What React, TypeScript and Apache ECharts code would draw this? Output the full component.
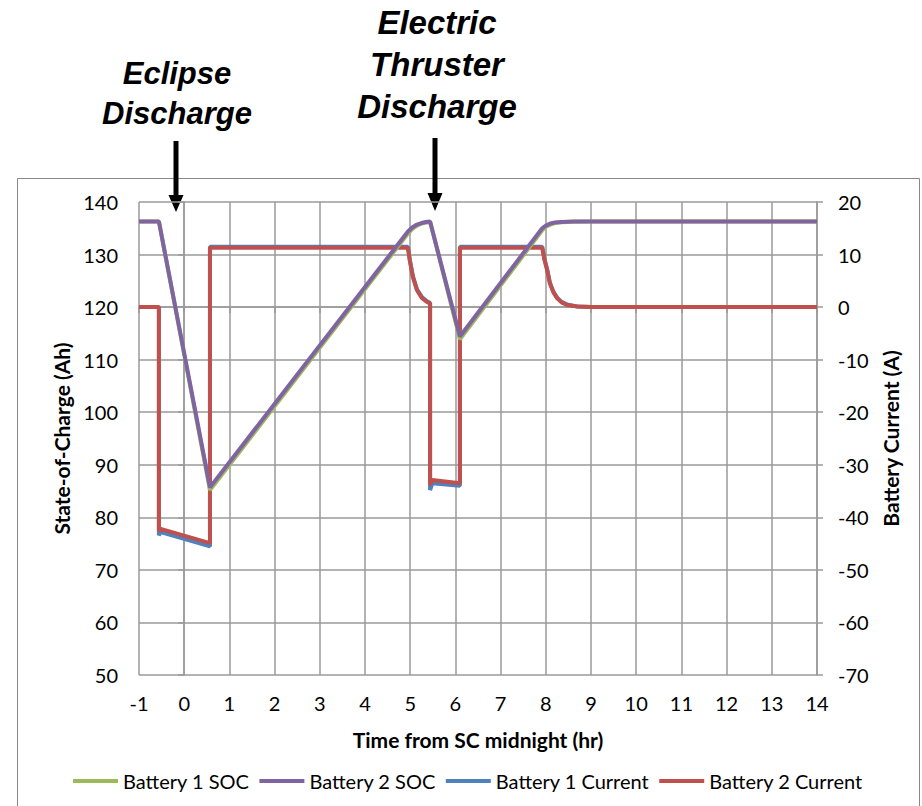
import React, { useEffect, useRef } from "react";
import * as echarts from "echarts";

// Time from SC midnight (hr) vs State-of-Charge (Ah)
const battery1SOC: [number, number][] = [
  [-1, 136.3], [-0.56, 136.3], [0.57, 85.2], [4.95, 134.0], [5.05, 134.9], [5.15, 135.5],
  [5.25, 135.9], [5.35, 136.1], [5.44, 136.25], [6.1, 113.9], [7.92, 134.6], [8.0, 135.3],
  [8.1, 135.7], [8.2, 136.0], [8.35, 136.15], [8.6, 136.25], [9.0, 136.3], [14, 136.3],
];
const battery2SOC: [number, number][] = [
  [-1, 136.3], [-0.56, 136.3], [0.57, 85.7], [4.95, 134.4], [5.05, 135.2], [5.15, 135.7],
  [5.25, 136.0], [5.35, 136.2], [5.44, 136.3], [6.1, 114.4], [7.92, 135.0], [8.0, 135.5],
  [8.1, 135.9], [8.2, 136.1], [8.35, 136.2], [8.6, 136.3], [14, 136.3],
];
// Time (hr) vs Battery Current (A)
const battery1Current: [number, number][] = [
  [-1, 0], [-0.56, 0], [-0.56, -43.4], [-0.52, -42.8], [0.57, -45.5], [0.57, 11.5],
  [4.95, 11.5], [4.99, 9.1], [5.06, 5.9], [5.15, 3.4], [5.26, 1.9], [5.37, 1.1], [5.44, 0.8],
  [5.44, -34.8], [5.49, -33.5], [6.1, -34.0], [6.1, 11.5], [7.92, 11.5], [7.97, 9.2],
  [8.03, 7.2], [8.09, 4.7], [8.17, 2.9], [8.25, 1.8], [8.35, 1.0], [8.47, 0.5], [8.7, 0.1],
  [9.0, 0], [14, 0],
];
const battery2Current: [number, number][] = [
  [-1, 0], [-0.56, 0], [-0.56, -42.6], [-0.52, -42.2], [0.57, -44.9], [0.57, 11.3],
  [4.95, 11.3], [4.99, 8.9], [5.06, 5.7], [5.15, 3.2], [5.26, 1.7], [5.37, 1.0], [5.44, 0.7],
  [5.44, -33.9], [5.49, -32.9], [6.1, -33.5], [6.1, 11.3], [7.92, 11.3], [7.97, 9.0],
  [8.03, 7.0], [8.09, 4.5], [8.17, 2.8], [8.25, 1.7], [8.35, 0.9], [8.47, 0.4], [8.7, 0.1],
  [9.0, 0], [14, 0],
];

const seriesNames = ["Battery 1 SOC", "Battery 2 SOC", "Battery 1 Current", "Battery 2 Current"];
const seriesColors = ["#9BBB59", "#8064A2", "#4F81BD", "#C0504D"];
const xAxisName = "Time from SC midnight (hr)";
const leftAxisName = "State-of-Charge (Ah)";
const rightAxisName = "Battery Current (A)";
const eclipseLabel = ["Eclipse", "Discharge"];
const thrusterLabel = ["Electric", "Thruster", "Discharge"];

const FONT = "Lato, 'Noto Sans', sans-serif";
const ANNOT_FONT = "'Liberation Sans', Arial, sans-serif";
const GRID_COLOR = "#9a9a9a";

export default function App() {
  const ref = useRef<HTMLDivElement>(null);
  useEffect(() => {
    if (!ref.current) return;
    const chart = echarts.init(ref.current, undefined, { renderer: "svg" });
    const axisLineStyle = { color: GRID_COLOR, width: 1.5 };
    const labelStyle = { fontFamily: FONT, fontSize: 20, color: "#000" };
    const nameStyle = { fontFamily: FONT, fontSize: 21, fontWeight: "bold" as const, color: "#000" };

    const annotTexts: any[] = [];
    eclipseLabel.forEach((t, i) => {
      annotTexts.push({
        type: "text", x: 177, y: 73 + i * 40,
        style: { text: t, fill: "#000", font: `italic bold 31px ${ANNOT_FONT}`, align: "center", verticalAlign: "middle" },
      });
    });
    thrusterLabel.forEach((t, i) => {
      annotTexts.push({
        type: "text", x: 437, y: 22 + i * 42,
        style: { text: t, fill: "#000", font: `italic bold 33px ${ANNOT_FONT}`, align: "center", verticalAlign: "middle" },
      });
    });

    const arrow = (cx: number, top: number, headTop: number, tip: number) => [
      { type: "rect", shape: { x: cx - 2.5, y: top, width: 5, height: headTop - top + 2 }, style: { fill: "#000" } },
      { type: "polygon", shape: { points: [[cx - 7.5, headTop], [cx + 7.5, headTop], [cx, tip]] }, style: { fill: "#000" } },
    ];

    const dataSets = [battery1SOC, battery2SOC, battery1Current, battery2Current];

    chart.setOption({
      animation: false,
      backgroundColor: "#fff",
      grid: { left: 139, right: 105, top: 202, bottom: 131 },
      legend: {
        data: seriesNames,
        left: 68,
        top: 766,
        icon: "rect",
        itemWidth: 45,
        itemHeight: 4,
        itemGap: 10,
        textStyle: { fontFamily: FONT, fontSize: 20, color: "#000" },
      },
      xAxis: {
        type: "value",
        min: -1,
        max: 14,
        interval: 1,
        name: xAxisName,
        nameLocation: "middle",
        nameGap: 54,
        nameTextStyle: nameStyle,
        axisLine: { show: true, lineStyle: axisLineStyle },
        axisTick: { show: true, length: 6, lineStyle: axisLineStyle },
        splitLine: { show: true, lineStyle: axisLineStyle },
        axisLabel: { ...labelStyle, margin: 18 },
      },
      yAxis: [
        {
          type: "value",
          position: "left",
          min: 50,
          max: 140,
          interval: 10,
          name: leftAxisName,
          nameLocation: "middle",
          nameGap: 65,
          nameTextStyle: nameStyle,
          axisLine: { show: true, lineStyle: axisLineStyle },
          axisTick: { show: true, length: 6, lineStyle: axisLineStyle },
          splitLine: { show: true, lineStyle: axisLineStyle },
          axisLabel: { ...labelStyle, margin: 21 },
        },
        {
          type: "value",
          position: "right",
          min: -70,
          max: 20,
          interval: 10,
          name: rightAxisName,
          nameLocation: "middle",
          nameGap: 62,
          nameTextStyle: nameStyle,
          axisLine: { show: true, lineStyle: axisLineStyle },
          axisTick: { show: true, length: 6, lineStyle: axisLineStyle },
          splitLine: { show: false },
          axisLabel: { ...labelStyle, margin: 21 },
        },
      ],
      graphic: [
        {
          type: "rect",
          shape: { x: 17.5, y: 178.5, width: 902, height: 700 },
          style: { fill: "none", stroke: "#888", lineWidth: 1 },
          z: -10,
          silent: true,
        },
        ...annotTexts,
        ...arrow(176, 141, 195, 212),
        ...arrow(435, 138, 193, 211),
      ],
      series: seriesNames.map((name, i) => ({
        name,
        type: "line",
        yAxisIndex: i < 2 ? 0 : 1,
        data: dataSets[i],
        showSymbol: false,
        symbol: "none",
        z: i < 2 ? 4 : 3,
        lineStyle: { color: seriesColors[i], width: 4 },
        itemStyle: { color: seriesColors[i] },
      })),
    });
    return () => chart.dispose();
  }, []);
  return (
    <div
      ref={ref}
      style={{ position: "fixed", left: 0, top: 0, width: 922, height: 806 }}
    />
  );
}
